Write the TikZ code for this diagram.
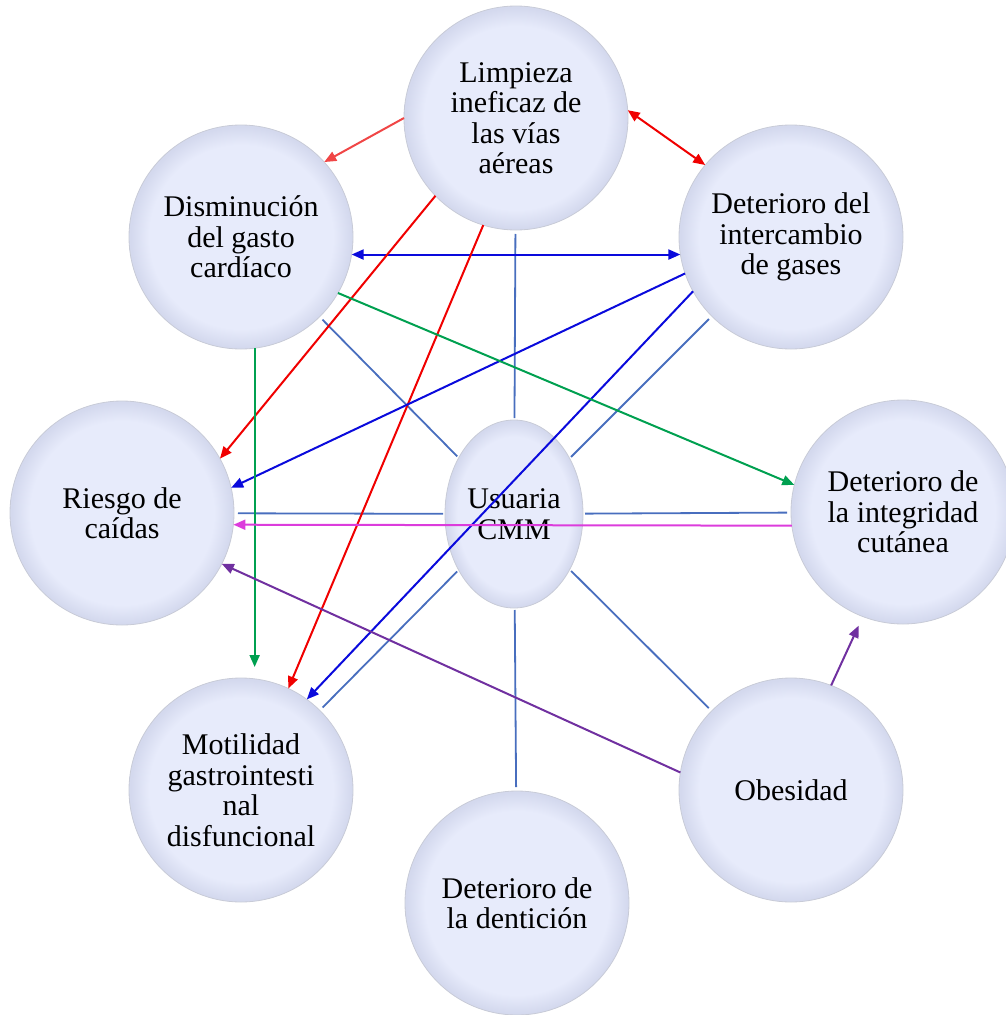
\documentclass[tikz,border=0pt]{standalone}
\usepackage{fontspec}
\setmainfont{Liberation Serif}
\usetikzlibrary{arrows.meta,shapes.geometric,calc}
\definecolor{bIn}{RGB}{231,235,251}
\definecolor{bOut}{RGB}{212,217,238}
\definecolor{rimC}{RGB}{200,203,215}
\definecolor{steelC}{RGB}{72,110,190}
\definecolor{redC}{RGB}{240,0,0}
\definecolor{redL}{RGB}{240,70,70}
\definecolor{blueC}{RGB}{10,10,220}
\definecolor{greenC}{RGB}{0,160,80}
\definecolor{magC}{RGB}{220,60,220}
\definecolor{purC}{RGB}{112,48,160}
\pgfdeclareradialshading{bubble}{\pgfpoint{0bp}{0bp}}{color(0bp)=(bIn); color(20.5bp)=(bIn); color(24.6bp)=(bOut); color(25bp)=(bOut); color(50bp)=(bOut)}
\tikzset{
  bub/.style={circle, minimum size=224pt, inner sep=0pt, outer sep=0pt,
    shading=bubble, draw=rimC, line width=0.8pt, align=center,
    font=\fontsize{30}{30.5}\selectfont, text=black},
  hub/.style={bub, ellipse, minimum width=138pt, minimum height=188pt},
  spoke/.style={draw=steelC, line width=1.8pt, shorten >=4pt, shorten <=2pt},
  rel/.style={line width=2pt, -{Triangle[length=12pt,width=10pt]}},
  relboth/.style={line width=2pt, {Triangle[length=12pt,width=10pt]}-{Triangle[length=12pt,width=10pt]}}
}
\begin{document}
\begin{tikzpicture}[x=1pt,y=-1pt]
\useasboundingbox (0,0) rectangle (1006,1015);
% nodes
\node[bub] (L) at (516,118) {Limpieza\\ineficaz de\\las vías\\aéreas};
\node[bub] (D) at (241,237) {Disminución\\del gasto\\cardíaco};
\node[bub] (I) at (791,237) {Deterioro del\\intercambio\\de gases};
\node[bub] (R) at (122,513) {Riesgo de\\caídas};
\node[bub] (G) at (903,512) {Deterioro de\\la integridad\\cutánea};
\node[bub] (M) at (241,790) {Motilidad\\gastrointesti\\nal\\disfuncional};
\node[bub] (O) at (791,790) {Obesidad};
\node[bub] (T) at (517,903) {Deterioro de\\la dentición};
\node[hub] (C) at (514,514) {Usuaria\\CMM};
% spokes from the centre
\draw[spoke] (C) -- (L);
\draw[spoke] (C) -- (D);
\draw[spoke] (C) -- (I);
\draw[spoke] (C) -- (R);
\draw[spoke] (C) -- (G);
\draw[spoke] (C) -- (M);
\draw[spoke] (C) -- (O);
\draw[spoke] (C) -- (T);
% relations
\draw[rel, redL] (L.180) -- (D.42.4);
\draw[relboth, redC] (L.4) -- (I.140.5);
\draw[relboth, blueC] (D.-9.3) -- (I.189.3);
\draw[rel, redC] (L.224.6) -- (R.29);
\draw[rel, redC] (L.253.6) -- (M.65.5);
\draw[rel, blueC] (I.199.5) -- (R.13.6);
\draw[rel, blueC] (I.209.5) -- (M.54.6);
\draw[rel, greenC, shorten >=11pt] (D.-83.3) -- (D.-83.3 |- M.north);
\draw[rel, greenC] (D.-30) -- (G.166.3);
\draw[rel, magC] (G.187.1) -- (R.-6.5);
\draw[rel, purC] (O.171.8) -- (R.-27.7);
\draw[rel, purC, shorten >=10pt] (O.69.3) -- (G.-111.4);
\end{tikzpicture}
\end{document}
